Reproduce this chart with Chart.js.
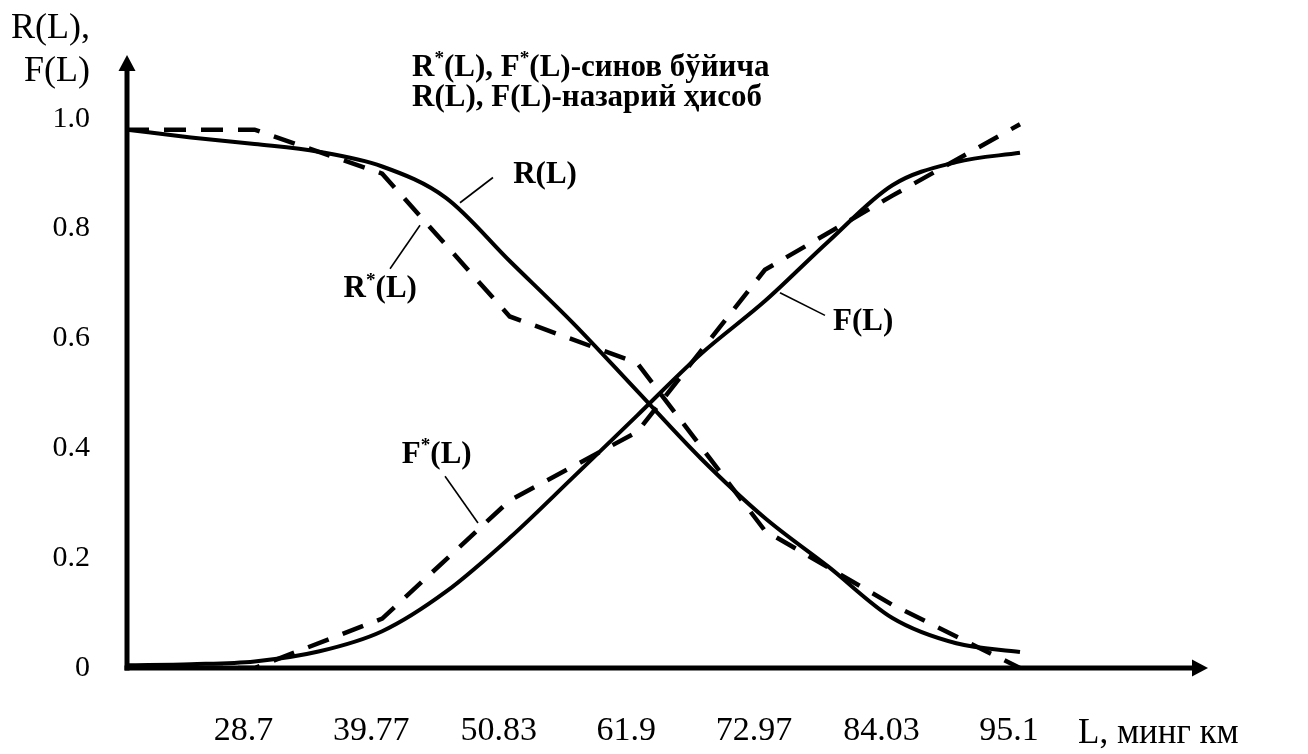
<!DOCTYPE html>
<html>
<head>
<meta charset="utf-8">
<script src="https://cdn.jsdelivr.net/npm/chart.js@4.4.1/dist/chart.umd.min.js"></script>
<style>
  html, body { margin: 0; padding: 0; background: #ffffff; }
  #wrap { width: 1308px; height: 754px; }
</style>
</head>
<body>
<div id="wrap"><canvas id="c" width="1308" height="754"></canvas></div>
<script>
// ---- data ----
const xTickValues = [28.7, 39.77, 50.83, 61.9, 72.97, 84.03, 95.1];
const xTickLabels = ['28.7', '39.77', '50.83', '61.9', '72.97', '84.03', '95.1'];
const yTickValues = [0, 0.2, 0.4, 0.6, 0.8, 1.0];
const yTickLabels = ['0', '0.2', '0.4', '0.6', '0.8', '1.0'];

// theoretical curves (solid)
const L_theory = [17.63, 23.17, 28.7, 34.24, 39.77, 45.3, 50.83, 56.37, 61.9, 67.44, 72.97, 78.5, 84.03, 89.57, 95.1];
const R_theory = [0.98, 0.966, 0.954, 0.94, 0.913, 0.856, 0.741, 0.627, 0.504, 0.381, 0.273, 0.184, 0.091, 0.045, 0.029];
const F_theory = [0.005, 0.007, 0.012, 0.03, 0.067, 0.139, 0.237, 0.348, 0.46, 0.572, 0.668, 0.777, 0.879, 0.921, 0.938];

// test curves (dashed)
const L_test = [17.63, 28.7, 39.77, 50.83, 61.9, 72.97, 84.03, 95.1];
const R_test = [0.98, 0.98, 0.90, 0.64, 0.555, 0.25, 0.115, 0.0];
const F_test = [0.0, 0.0, 0.09, 0.305, 0.43, 0.725, 0.86, 0.99];

// texts
const yTitleLines = ['R(L),', 'F(L)'];
const xTitle = 'L, минг км';
const legendLines = [
  [['R'], ['*', 'sup'], ['(L), F'], ['*', 'sup'], ['(L)-синов бўйича']],
  [['R(L), F(L)-назарий ҳисоб']]
];
const annotations = [
  { parts: [['R(L)']],                    at: [53.9, 0.902],  from: [49.38, 0.893], to: [46.52, 0.847] },
  { parts: [['R'], ['*', 'sup'], ['(L)']], at: [39.6, 0.693],  from: [40.45, 0.727], to: [43.05, 0.806] },
  { parts: [['F'], ['*', 'sup'], ['(L)']], at: [44.5, 0.392],  from: [45.22, 0.349], to: [48.08, 0.264] },
  { parts: [['F(L)']],                    at: [81.5, 0.633],  from: [78.18, 0.642], to: [74.28, 0.683] }
];

// ---- helpers ----
const SERIF = '"Liberation Serif", "Times New Roman", serif';
function pts(xs, ys) { return xs.map((x, i) => ({ x: x, y: ys[i] })); }

function richWidth(ctx, parts, size, bold) {
  let w = 0;
  for (const p of parts) {
    const s = p[1] === 'sup' ? size * 0.62 : size;
    ctx.font = (bold ? 'bold ' : '') + s + 'px ' + SERIF;
    w += ctx.measureText(p[0]).width;
  }
  return w;
}
function drawRich(ctx, parts, x, y, size, bold, align) {
  const w = richWidth(ctx, parts, size, bold);
  let cx = align === 'center' ? x - w / 2 : (align === 'right' ? x - w : x);
  ctx.textAlign = 'left';
  ctx.textBaseline = 'alphabetic';
  for (const p of parts) {
    const sup = p[1] === 'sup';
    const s = sup ? size * 0.62 : size;
    ctx.font = (bold ? 'bold ' : '') + s + 'px ' + SERIF;
    ctx.fillText(p[0], cx, sup ? y - size * 0.38 : y);
    cx += ctx.measureText(p[0]).width;
  }
}

const decor = {
  id: 'decor',
  beforeDatasetsDraw(chart) {
    const ctx = chart.ctx;
    const a = chart.chartArea;
    ctx.save();
    ctx.fillStyle = '#000';
    ctx.strokeStyle = '#000';
    ctx.lineWidth = 5;
    ctx.lineCap = 'butt';
    // y axis
    ctx.beginPath();
    ctx.moveTo(a.left, a.bottom + 2.5);
    ctx.lineTo(a.left, a.top + 14);
    ctx.stroke();
    ctx.beginPath();
    ctx.moveTo(a.left, a.top);
    ctx.lineTo(a.left - 8.5, a.top + 16);
    ctx.lineTo(a.left + 8.5, a.top + 16);
    ctx.closePath();
    ctx.fill();
    // x axis
    ctx.beginPath();
    ctx.moveTo(a.left - 2.5, a.bottom);
    ctx.lineTo(a.right - 14, a.bottom);
    ctx.stroke();
    ctx.beginPath();
    ctx.moveTo(a.right, a.bottom);
    ctx.lineTo(a.right - 16, a.bottom - 8.5);
    ctx.lineTo(a.right - 16, a.bottom + 8.5);
    ctx.closePath();
    ctx.fill();
    ctx.restore();
  },
  afterDatasetsDraw(chart) {
    const ctx = chart.ctx;
    const xs = chart.scales.x, ys = chart.scales.y;
    ctx.save();
    ctx.fillStyle = '#000';
    ctx.strokeStyle = '#000';
    // y-axis title
    drawRich(ctx, [[yTitleLines[0]]], 90, 38, 36, false, 'right');
    drawRich(ctx, [[yTitleLines[1]]], 90, 81, 36, false, 'right');
    // x-axis title
    drawRich(ctx, [[xTitle]], 1078, 743, 35, false, 'left');
    // legend block
    drawRich(ctx, legendLines[0], 412, 76, 31, true, 'left');
    drawRich(ctx, legendLines[1], 412, 106, 31, true, 'left');
    // annotations with leader lines
    ctx.lineWidth = 1.6;
    for (const an of annotations) {
      ctx.beginPath();
      ctx.moveTo(xs.getPixelForValue(an.from[0]), ys.getPixelForValue(an.from[1]));
      ctx.lineTo(xs.getPixelForValue(an.to[0]), ys.getPixelForValue(an.to[1]));
      ctx.stroke();
      drawRich(ctx, an.parts, xs.getPixelForValue(an.at[0]), ys.getPixelForValue(an.at[1]) + 10, 31, true, 'center');
    }
    ctx.restore();
  }
};

new Chart(document.getElementById('c'), {
  type: 'line',
  data: {
    datasets: [
      { label: 'R(L)', data: pts(L_theory, R_theory), borderColor: '#000', borderWidth: 4,
        pointRadius: 0, cubicInterpolationMode: 'monotone', fill: false },
      { label: 'F(L)', data: pts(L_theory, F_theory), borderColor: '#000', borderWidth: 4,
        pointRadius: 0, cubicInterpolationMode: 'monotone', fill: false },
      { label: 'R*(L)', data: pts(L_test, R_test), borderColor: '#000', borderWidth: 4.5,
        borderDash: [22, 15], pointRadius: 0, tension: 0, fill: false },
      { label: 'F*(L)', data: pts(L_test, F_test), borderColor: '#000', borderWidth: 4.5,
        borderDash: [22, 15], pointRadius: 0, tension: 0, fill: false }
    ]
  },
  options: {
    responsive: false,
    animation: false,
    devicePixelRatio: 1,
    layout: { padding: { top: 42, right: 100, left: 0, bottom: 0 } },
    plugins: { legend: { display: false }, tooltip: { enabled: false }, title: { display: false } },
    scales: {
      x: {
        type: 'linear', min: 17.63, max: 111.41,
        grid: { display: false, drawTicks: false }, border: { display: false },
        afterBuildTicks: s => { s.ticks = xTickValues.map(v => ({ value: v })); },
        afterFit: s => { s.height = 86; },
        ticks: {
          callback: (v, i) => xTickLabels[i],
          font: { family: SERIF, size: 34 }, color: '#000',
          padding: 43, labelOffset: -11, maxRotation: 0, autoSkip: false
        }
      },
      y: {
        type: 'linear', min: 0, max: 1.116,
        grid: { display: false, drawTicks: false }, border: { display: false },
        afterBuildTicks: s => { s.ticks = yTickValues.map(v => ({ value: v })); },
        afterFit: s => { s.width = 127; },
        ticks: {
          callback: (v, i) => yTickLabels[i],
          font: { family: SERIF, size: 30 }, color: '#000',
          padding: 37, autoSkip: false
        }
      }
    }
  },
  plugins: [decor]
});
</script>
</body>
</html>
